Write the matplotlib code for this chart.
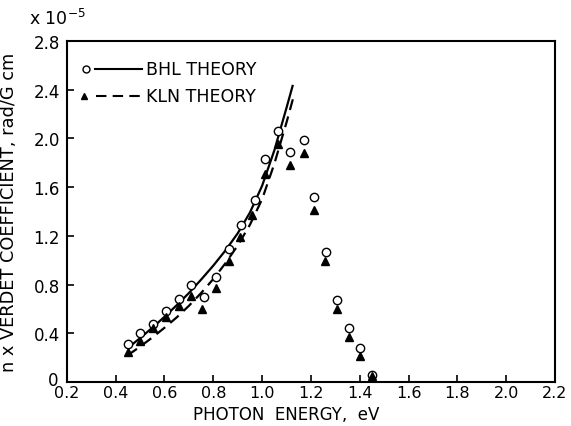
import matplotlib
matplotlib.use("Agg")
import matplotlib.pyplot as plt
from matplotlib.transforms import ScaledTranslation

# measured points (open circles / filled triangles)
e_circ = [0.45, 0.50, 0.553, 0.606, 0.66, 0.71, 0.76, 0.81, 0.865, 0.915, 0.97,
          1.01, 1.067, 1.116, 1.17, 1.214, 1.26, 1.305, 1.354, 1.40, 1.45]
v_circ = [0.31, 0.40, 0.48, 0.58, 0.68, 0.80, 0.70, 0.86, 1.09, 1.29, 1.49,
          1.83, 2.06, 1.89, 1.99, 1.52, 1.07, 0.67, 0.44, 0.28, 0.06]
e_tri = [0.45, 0.50, 0.553, 0.606, 0.66, 0.71, 0.755, 0.81, 0.865, 0.91, 0.96,
         1.01, 1.067, 1.116, 1.17, 1.214, 1.256, 1.305, 1.354, 1.40, 1.45]
v_tri = [0.25, 0.34, 0.44, 0.53, 0.62, 0.71, 0.60, 0.77, 0.99, 1.19, 1.37,
         1.71, 1.95, 1.78, 1.88, 1.41, 0.99, 0.60, 0.37, 0.21, 0.05]

# theory curves
e_bhl = [0.45, 0.50, 0.55, 0.60, 0.65, 0.70, 0.75, 0.80, 0.85, 0.90, 0.95,
         1.00, 1.05, 1.10, 1.125]
v_bhl = [0.28, 0.36, 0.445, 0.535, 0.63, 0.73, 0.84, 0.955, 1.08, 1.22, 1.39,
         1.61, 1.90, 2.25, 2.43]
e_kln = [0.45, 0.50, 0.55, 0.60, 0.65, 0.70, 0.75, 0.80, 0.85, 0.90, 0.95,
         1.00, 1.05, 1.10, 1.13]
v_kln = [0.22, 0.29, 0.365, 0.445, 0.53, 0.625, 0.73, 0.845, 0.975, 1.12, 1.29,
         1.50, 1.79, 2.13, 2.35]

xticks = [0.2, 0.4, 0.6, 0.8, 1.0, 1.2, 1.4, 1.6, 1.8, 2.0, 2.2]
yticks = [0, 0.4, 0.8, 1.2, 1.6, 2.0, 2.4, 2.8]

fs = 12.5
plt.rcParams['font.family'] = 'DejaVu Sans'
fig = plt.figure(figsize=(5.71, 4.27), dpi=100)
ax = fig.add_axes([0.117, 0.103, 0.855, 0.799])

ax.plot(e_bhl, v_bhl, '-', color='black', lw=1.6)
ax.plot(e_kln, v_kln, '--', color='black', lw=1.6, dashes=(5, 3))
ax.plot(e_circ, v_circ, 'o', mfc='white', mec='black', ms=6, mew=1)
ax.plot(e_tri, v_tri, '^', color='black', ms=5.5)

# legend
ax.plot([0.28], [2.57], 'o', mfc='white', mec='black', ms=5, mew=1)
ax.plot([0.315, 0.51], [2.57, 2.57], '-', color='black', lw=1.5)
ax.text(0.525, 2.57, 'BHL THEORY', va='center', fontsize=fs)
ax.plot([0.27], [2.35], '^', color='black', ms=4.5)
ax.plot([0.32, 0.51], [2.35, 2.35], '--', color='black', lw=1.5, dashes=(5, 3))
ax.text(0.525, 2.35, 'KLN THEORY', va='center', fontsize=fs)

ax.set_xlim(0.2, 2.2)
ax.set_ylim(0, 2.8)
ax.set_xticks(xticks)
ax.set_xticklabels(['0.2', '0.4', '0.6', '0.8', '1.0', '1.2', '1.4', '1.6', '1.8', '2.0', '2.2'])
ax.set_yticks(yticks)
ax.set_yticklabels(['0', '0.4', '0.8', '1.2', '1.6', '2.0', '2.4', '2.8'])
ax.tick_params(direction='in', length=5, width=1.2, labelsize=12, pad=5)
ax.tick_params(axis='x', labelsize=11.5, pad=2.5)
for s in ax.spines.values():
    s.set_linewidth(1.5)

# nudge the "0" up a bit so it clears the 0.2 below it
zero = ax.get_yticklabels()[0]
zero.set_transform(zero.get_transform() + ScaledTranslation(-1 / 72, 3 / 72, fig.dpi_scale_trans))

ax.set_xlabel('PHOTON  ENERGY,  eV', fontsize=12)
ax.xaxis.set_label_coords(0.45, -0.068)
ax.set_ylabel('n x VERDET COEFFICIENT, rad/G cm', fontsize=12.8)
ax.yaxis.set_label_coords(-0.1, 0.5)
fig.text(0.1, 0.955, r'x 10$^{-5}$', fontsize=fs, va='center', ha='center')

fig.savefig('out.png', dpi=100)
